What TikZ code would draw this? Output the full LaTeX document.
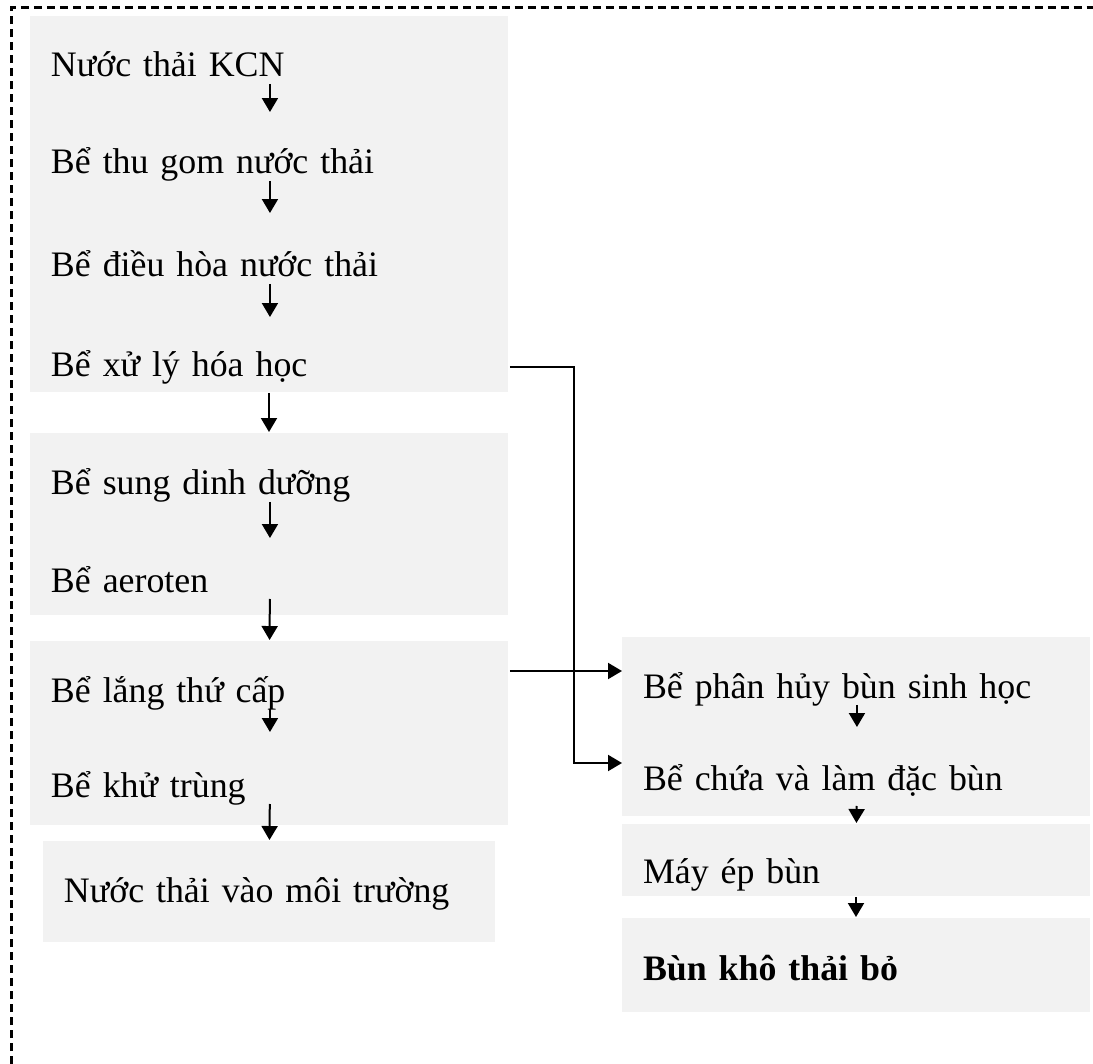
\documentclass[tikz,border=0pt]{standalone}
\usepackage{fontspec}
\setmainfont{Liberation Serif}
\usepackage{xcolor}
\usepackage{tikz}
\usetikzlibrary{positioning, arrows.meta, calc}
\definecolor{tankgray}{RGB}{242,242,242}
\tikzset{tank/.style={
    rectangle,
    fill=tankgray,
    inner sep=0pt
}}
\tikzset{stage/.style={
    rectangle,
    inner xsep=0.4cm,
    inner ysep=0pt,
    text height=0.52cm,
    text depth=0.12cm,
    align=left,
    anchor=base west,
    font=\fontsize{20.4}{24}\selectfont
}}
\tikzset{flow/.style={
    ->,
    shorten >=#1
}, flow/.default=0.7cm}

\begin{document}
\begin{tikzpicture}[
    x=0.02cm, y=-0.02cm,
    >={Triangle[width=0.32cm, length=0.28cm]}, line width=0.04cm,
    text=black,
]
    \useasboundingbox (0,0) rectangle (1093,1064);
    \draw [line width=0.05cm, dash pattern=on 0.16cm off 0.1cm] (11.5,1064) -- (11.5,7.5) -- (1093,7.5);
    % Water line
    \node (box1) [tank, minimum width=9.56cm, minimum height=7.52cm] at (269,204) {};
    \node (box2) [tank, minimum width=9.56cm, minimum height=3.64cm] at (269,524) {};
    \node (box3) [tank, minimum width=9.56cm, minimum height=3.68cm] at (269,733) {};
    \node (box4) [tank, minimum width=9.04cm, minimum height=2.02cm] at (269,891.5) {};
    \node (kcn)      [stage, text width=8.76cm] at (30,77)  {Nước thải KCN};
    \node (thugom)   [stage, text width=8.76cm] at (30,174) {Bể thu gom nước thải};
    \node (dieuhoa)  [stage, text width=8.76cm] at (30,277) {Bể điều hòa nước thải};
    \node (hoahoc)   [stage, text width=8.76cm] at (30,377) {Bể xử lý hóa học};
    \node (dinhduong)[stage, text width=8.76cm] at (30,495) {Bể sung dinh dưỡng};
    \node (aeroten)  [stage, text width=8.76cm] at (30,592) {Bể aeroten};
    \node (lang)     [stage, text width=8.76cm] at (30,702) {Bể lắng thứ cấp};
    \node (khutrung) [stage, text width=8.76cm] at (30,797) {Bể khử trùng};
    \node (moitruong)[stage, text width=8.24cm] at (43,902) {Nước thải vào môi trường};
    % Sludge line
    \node (boxA) [tank, minimum width=9.36cm, minimum height=3.58cm] at (856,726.5) {};
    \node (boxB) [tank, minimum width=9.36cm, minimum height=1.44cm] at (856,860) {};
    \node (boxC) [tank, minimum width=9.36cm, minimum height=1.88cm] at (856,965) {};
    \node (phanhuy) [stage, text width=8.56cm] at (622,698) {Bể phân hủy bùn sinh học};
    \node (chua)    [stage, text width=8.56cm] at (622,790) {Bể chứa và làm đặc bùn};
    \node (mayep)   [stage, text width=8.56cm] at (622,883) {Máy ép bùn};
    \node (bunkho)  [stage, text width=8.56cm, font=\fontsize{20.4}{24}\selectfont\bfseries] at (622,980) {Bùn khô thải bỏ};
    \coordinate (split) at (574,0);

    \draw [flow] (kcn) -- (thugom);
    \draw [flow=0.74cm] (thugom) -- (dieuhoa);
    \draw [flow=0.66cm] (dieuhoa) -- (hoahoc);
    \draw [->] (box1) -- (box2);
    \draw [flow=0.54cm] (dinhduong) -- (aeroten);
    \draw [->] (aeroten) -- (box3);
    \draw [flow=0.76cm] (lang) -- (khutrung);
    \draw [->] (khutrung) -- (box4);
    \draw [flow=0.72cm] (phanhuy) -- (chua);
    \draw [->, shorten <=0.18cm] (chua) -- (boxB);
    \draw [->] (boxB) -- (boxC);
    \draw [->] (hoahoc.east) -| (split |- chua.north west) -- (chua.north west);
    \draw [->] (lang.east |- phanhuy.north west) -- (phanhuy.north west);
\end{tikzpicture}
\end{document}
